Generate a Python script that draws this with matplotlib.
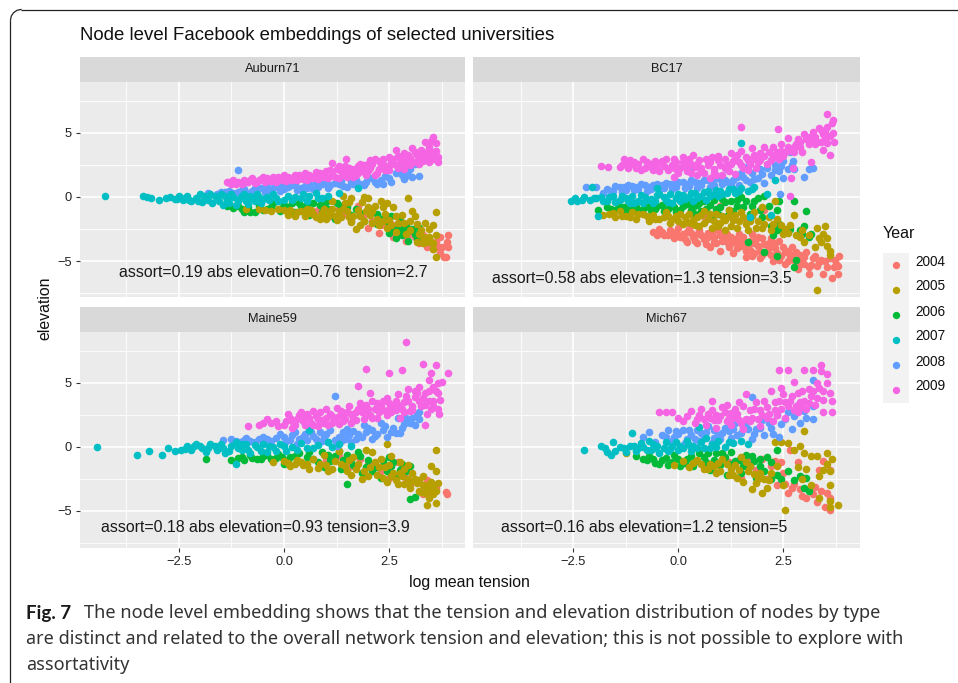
import matplotlib
matplotlib.use('Agg')
import matplotlib.pyplot as plt
from matplotlib.patches import Rectangle

plt.rcParams['font.family'] = ['Liberation Sans', 'DejaVu Sans']

years = ['2004', '2005', '2006', '2007', '2008', '2009']
year_colors = ['#F8766D', '#B79F00', '#00BA38', '#00BFC4', '#619CFF', '#F564E3']

# points, (log mean tension, elevation)
# ── Auburn71 ───────────────────────────────────────────────────────────────
auburn_2004 = [(0.5,-1.2),(0.8,-1.0),(1.1,-1.5),(1.3,-0.9),(1.6,-1.9),(1.75,-0.7),(1.9,-1.4),(2.0,-2.4),(2.1,-1.9),(2.25,-2.8),
    (2.4,-2.0),(2.5,-2.6),(2.6,-3.1),(2.7,-2.3),(2.8,-2.9),(2.9,-3.4),(3.0,-2.6),(3.1,-3.1),(3.2,-3.6),(3.3,-3.0),(3.4,-3.9),
    (3.45,-3.3),(3.55,-4.1),(3.6,-3.5),(3.7,-3.1),(3.75,-3.9),(3.8,-4.7),(3.85,-4.7),(3.9,-3.0),(3.88,-3.5),(3.9,-3.9),(3.7,-4.4),
    (2.3,-2.2),(2.55,-2.1),(2.75,-2.6),(2.95,-3.0),(3.15,-3.3),(3.35,-3.4),(3.5,-3.8),(3.65,-3.9),(3.05,-2.9),(1.45,-1.3)]
auburn_2005 = [(-0.9,-0.9),(-0.6,-0.9),(-0.3,-1.1),(0.0,-1.0),(0.1,-1.4),(0.3,-1.2),(0.5,-1.5),(0.55,-0.9),(0.7,-1.3),(0.85,-1.7),
    (0.95,-0.9),(1.05,-1.5),(1.15,-0.3),(1.25,-1.8),(1.3,-1.1),(1.4,0.1),(1.45,-0.5),(1.55,-1.6),(1.6,-0.1),(1.7,-2.5),(1.75,-1.0),
    (1.85,-0.4),(1.9,-1.9),(2.0,-0.1),(2.05,-1.4),(2.15,-0.7),(2.25,-2.2),(2.35,-0.8),(2.45,-0.5),(2.5,-1.8),(2.6,-0.8),(2.65,-2.7),
    (2.95,-0.1),(2.85,-2.0),(3.05,-1.1),(3.1,-1.5),(3.2,-2.9),(3.35,-2.0),(3.45,-3.1),(3.6,-1.2),(3.55,-2.2),(3.55,-3.6),(3.6,-3.0),
    (3.55,-4.1),(3.6,-4.65),(3.15,-3.5),(3.3,-3.6),(0.15,-1.05),(0.25,-1.45),(0.4,-1.1),(0.6,-1.25),(0.75,-1.55),(0.9,-1.25),(1.1,-1.1),
    (1.2,-1.5),(1.35,-1.6),(1.5,-1.1),(1.65,-1.5),(1.8,-2.2),(1.95,-1.1),(2.1,-2.0),(2.2,-1.7),(2.4,-1.3),(2.55,-2.2),(2.7,-2.0),(2.9,-2.9),
    (3.0,-1.9),(3.25,-2.6),(3.4,-3.5),(3.45,-2.5),(3.5,-3.5),(1.55,-0.4),(1.9,0.0),(2.3,-0.3),(-0.45,-1.0),(-0.15,-0.95),(0.65,-1.0),(1.0,-1.7),
    (1.15,-0.9),(1.4,-0.95),(1.6,-1.95),(1.8,-1.5),(2.0,-0.8),(2.1,-1.1),(2.35,-1.9),(2.45,-2.4),(2.65,-1.5),(2.8,-1.4),(3.0,-2.6),(3.15,-2.1),(3.3,-3.1)]
auburn_2006 = [(-1.35,-0.7),(-1.1,-0.7),(-0.85,-0.8),(-0.8,-1.2),(-0.6,-0.7),(-0.4,-0.9),(-0.25,-0.5),(-0.1,-1.1),(0.1,-0.8),(0.25,-1.2),
    (0.4,-0.7),(0.6,-1.4),(0.7,-0.5),(0.9,-1.2),(1.05,-0.9),(1.2,-1.7),(1.35,-0.7),(1.6,-1.4),(1.7,-0.9),(1.9,-1.9),(2.05,-1.0),
    (2.2,-2.1),(2.4,-1.4),(2.55,-1.5),(2.6,-2.5),(2.75,-1.9),(2.65,-3.2),(2.9,-2.2),(2.8,-3.0),(3.0,-2.6),(3.1,-2.9),(3.2,-2.4),(3.15,-3.2),
    (-1.2,-0.85),(-1.0,-0.95),(-0.7,-1.15),(-0.5,-1.05),(-0.3,-0.75),(0.0,-0.6),(0.2,-0.5),(0.55,-0.55),(1.0,-0.4),(1.5,-0.8),(2.3,-1.7),(2.5,-2.8),
    (2.95,-3.4),(3.05,-2.5),(-0.95,-1.2),(-0.05,-0.85),(0.35,-0.45),(0.85,-0.6),(1.25,-0.5),(1.8,-1.25),(2.2,-1.3),(2.45,-1.9),(2.7,-2.6),(2.85,-2.45)]
auburn_2007 = [(-4.25,0.05),(-3.35,0.07),(-3.25,0.0),(-3.15,-0.05),(-2.98,-0.2),(-2.8,-0.05),(-2.7,0.0),(-2.6,-0.15),(-2.5,0.05),(-2.4,-0.25),
    (-2.3,0.05),(-2.2,-0.35),(-2.1,-0.1),(-2.0,0.2),(-1.95,-0.4),(-1.85,-0.05),(-1.75,0.25),(-1.7,-0.5),(-1.6,-0.1),(-1.5,0.2),(-1.45,-0.65),
    (-1.35,-0.2),(-1.25,0.25),(-1.15,-0.6),(-1.05,-0.1),(-0.95,0.25),(-0.85,-0.55),(-0.75,-0.1),(-0.65,0.2),(-0.55,-0.45),(-0.4,0.0),
    (-0.25,0.2),(-0.15,-0.3),(0.1,0.1),(0.45,0.2),(0.75,0.3),(1.05,0.1),(1.75,0.7),(-2.55,-0.15),(-2.35,-0.05),(-2.25,-0.2),(-2.05,-0.3),(-1.9,0.05),
    (-1.8,-0.25),(-1.65,0.1),(-1.55,-0.35),(-1.4,0.05),(-1.3,-0.45),(-1.2,0.0),(-1.1,-0.35),(-1.0,0.1),(-0.9,-0.3),(-0.8,0.1),(-0.7,-0.35),
    (-0.6,0.0),(-0.5,-0.15),(-0.35,-0.25),(-0.2,-0.05),(0.0,-0.2),(0.25,0.0),(0.6,0.05),(0.9,-0.1),(0.2,-0.25),(0.4,-0.1),(0.55,-0.3),(0.8,-0.05),(1.3,0.3)]
auburn_2008 = [(-1.1,2.1),(-1.8,0.35),(-1.6,0.25),(-1.4,0.4),(-1.2,0.3),(-1.0,0.55),(-0.85,0.35),(-0.65,0.6),(-0.45,0.4),(-0.25,0.7),
    (-0.1,0.45),(0.1,0.8),(0.3,0.55),(0.5,0.85),(0.7,0.6),(0.9,1.0),(1.05,0.7),(1.2,1.1),(1.4,0.85),(1.6,1.2),(1.8,1.0),(2.0,1.45),
    (2.15,1.2),(2.3,1.3),(2.55,1.15),(2.65,1.9),(2.85,1.4),(3.0,2.2),(3.2,1.65),(3.1,2.6),(3.25,2.9),(3.3,3.3),(-1.5,0.4),(-1.3,0.5),(-1.1,0.4),
    (-0.95,0.65),(-0.75,0.5),(-0.55,0.7),(-0.35,0.55),(-0.15,0.8),(0.0,0.6),(0.2,0.9),(0.4,0.7),(0.6,1.0),(0.8,0.8),(1.0,1.1),(1.3,1.05),(1.5,0.75),
    (1.7,1.3),(1.9,0.9),(2.1,1.5),(2.4,1.65),(2.75,2.2),(2.95,1.75),(-0.7,0.7),(-0.4,0.75),(-0.05,0.9),(0.25,1.0),(0.55,0.7),(0.75,1.1),(1.1,0.9),(1.35,1.25),
    (1.65,1.0),(1.95,1.2),(2.2,1.0),(2.5,1.5),(2.35,1.0),(2.8,1.7),(3.05,1.55)]
auburn_2009 = [(-1.36,1.15),(-1.25,1.05),(-1.2,1.3),(-1.1,1.15),(-1.0,1.0),(-0.95,1.35),(-0.85,1.15),(-0.75,1.45),(-0.7,1.1),(-0.6,1.3),
    (-0.5,1.55),(-0.45,1.15),(-0.35,1.35),(-0.25,1.6),(-0.2,1.2),(-0.1,1.45),(0.0,1.7),(0.05,1.25),(0.15,1.5),(0.25,1.75),(0.3,1.3),
    (0.4,1.55),(0.5,1.85),(0.55,1.35),(0.65,1.6),(0.75,1.95),(0.8,1.4),(0.9,1.7),(1.0,2.0),(1.15,2.65),(1.05,1.45),(1.15,1.8),(1.25,2.15),
    (1.3,1.5),(1.45,2.4),(1.45,1.9),(1.5,1.6),(1.47,2.95),(1.65,2.2),(1.7,1.7),(1.8,2.6),(1.85,2.0),(1.95,1.7),(2.05,2.85),(2.05,2.3),
    (2.2,1.9),(2.15,3.0),(2.3,2.55),(2.4,2.1),(2.5,3.1),(2.55,2.6),(2.65,3.7),(2.7,2.3),(2.75,3.0),(2.85,3.4),(2.9,2.6),(3.0,3.05),
    (3.05,3.8),(3.15,3.3),(3.25,3.7),(3.35,4.3),(3.35,3.1),(3.45,3.9),(3.5,4.4),(3.55,3.0),(3.55,4.7),(3.62,4.2),(3.62,3.6),(3.65,2.7),
    (3.65,3.1),(-1.3,1.2),(-1.15,1.05),(-0.9,1.2),(-0.8,1.3),(-0.65,1.15),(-0.55,1.4),(-0.4,1.45),(-0.3,1.25),(-0.15,1.55),(-0.05,1.3),(0.1,1.6),
    (0.2,1.35),(0.35,1.7),(0.45,1.4),(0.6,1.75),(0.7,1.5),(0.85,1.85),(0.95,1.55),(1.1,2.1),(1.2,1.55),(1.35,2.0),(1.4,1.7),(1.55,2.3),(1.6,1.85),
    (1.75,2.4),(1.75,1.9),(1.9,2.5),(2.0,2.05),(2.1,2.6),(2.25,2.2),(2.25,2.8),(2.35,3.0),(2.45,2.4),(2.6,3.0),(2.65,2.5),(2.8,2.7),(2.8,3.2),
    (2.95,3.3),(2.95,2.85),(3.1,2.7),(3.1,3.5),(3.2,3.0),(3.3,2.8),(3.4,3.5),(3.5,3.2),(1.3,2.4),(1.55,2.0),(1.65,1.6),(1.85,2.3),(2.0,2.6),(2.15,1.75),
    (2.35,2.6),(2.5,2.1),(2.55,2.85),(2.7,3.2),(2.85,2.2),(3.0,2.5),(3.2,2.6),(3.3,3.4),(3.45,2.7),(3.55,3.5)]
# ── BC17 ───────────────────────────────────────────────────────────────────
bc_2004 = [(-0.6,-2.7),(-0.45,-2.5),(-0.35,-3.0),(-0.2,-2.6),(-0.1,-3.2),(0.0,-2.4),(0.1,-2.9),(0.2,-3.5),(0.25,-2.5),(0.35,-3.1),
    (0.45,-3.6),(0.5,-2.6),(0.6,-3.3),(0.7,-2.8),(0.75,-3.9),(0.85,-3.1),(0.95,-2.6),(1.0,-4.2),(1.05,-3.4),(1.15,-2.9),(1.2,-3.9),
    (1.3,-4.4),(1.35,-3.3),(1.45,-2.9),(1.5,-3.8),(1.6,-4.2),(1.6,-4.7),(1.7,-3.4),(1.75,-2.9),(1.8,-4.4),(1.9,-3.8),(1.95,-4.8),
    (2.0,-3.2),(2.1,-4.3),(2.15,-3.6),(2.25,-5.0),(2.3,-4.0),(2.4,-3.4),(2.45,-4.6),(2.55,-5.2),(2.6,-4.2),(2.7,-3.9),(2.75,-4.9),
    (2.85,-5.6),(2.9,-4.5),(3.0,-5.2),(3.05,-4.3),(3.1,-6.0),(3.2,-4.8),(3.3,-5.4),(3.4,-4.9),(3.45,-6.0),(3.55,-5.5),(3.65,-6.3),
    (3.7,-5.5),(3.72,-4.9),(3.75,-5.2),(3.8,-6.0),(3.82,-4.6),(3.8,-5.4),(3.62,-4.8),(1.0,-0.7),(0.6,-1.5),(1.6,-1.7),(2.05,-1.0),
    (-0.5,-2.95),(-0.25,-3.0),(-0.05,-2.7),(0.15,-3.25),(0.3,-2.8),(0.4,-3.4),(0.55,-2.95),(0.65,-3.65),(0.8,-2.75),(0.9,-3.6),(1.1,-3.15),
    (1.25,-3.6),(1.4,-3.6),(1.55,-3.15),(1.65,-3.8),(1.85,-3.3),(1.95,-4.2),(2.05,-3.7),(2.2,-3.2),(2.2,-4.5),(2.35,-4.4),(2.5,-3.9),(2.65,-4.6),
    (2.8,-4.3),(2.95,-4.8),(3.15,-5.3),(3.25,-4.6),(1.4,-4.0),(1.75,-4.6),(2.6,-5.0),(2.9,-5.2),(-0.4,-2.75),(-0.15,-2.85),(0.05,-3.1),(0.2,-2.7),(0.4,-2.95),
    (0.7,-3.15),(0.85,-3.5),(1.0,-3.0),(1.15,-3.55),(1.25,-3.15),(1.45,-3.25),(1.55,-3.55),(1.7,-4.15),(1.8,-3.6),(1.9,-3.1),(2.0,-4.55),(2.15,-4.0),
    (2.3,-3.6),(2.4,-4.9),(2.55,-4.3),(2.7,-4.5),(2.85,-4.9),(3.0,-4.65),(3.1,-5.5),(3.35,-5.1),(3.5,-5.0)]
bc_2005 = [(-1.8,-1.4),(-1.65,-1.3),(-1.5,-1.55),(-1.4,-1.1),(-1.25,-1.5),(-1.1,-1.2),(-1.0,-1.7),(-0.85,-1.3),(-0.7,-1.9),(-0.6,-1.4),
    (-0.45,-1.7),(-0.3,-1.2),(-0.2,-2.0),(-0.05,-1.5),(0.1,-2.1),(0.25,-1.3),(0.35,-1.8),(0.5,-2.3),(0.6,-1.1),(0.7,-1.7),(0.8,-2.4),
    (0.9,-1.3),(1.0,-2.0),(1.1,-2.6),(1.2,-1.0),(1.3,-1.8),(1.4,-2.4),(1.5,-1.2),(1.6,-2.1),(1.75,-1.5),(1.65,-2.6),(1.85,-2.4),(2.0,-0.8),
    (2.05,-2.1),(2.2,-2.6),(2.3,-0.3),(2.35,-1.7),(2.5,-2.9),(2.65,-2.2),(2.75,-1.4),(2.8,-3.0),(2.95,-2.6),(3.0,-3.5),(3.1,-3.0),
    (3.3,-2.4),(3.25,-3.9),(3.35,-3.2),(3.45,-2.9),(3.5,-2.3),(3.55,-3.2),(3.55,-3.8),(3.6,-4.2),(3.6,-4.5),(3.3,-7.3),(3.4,-3.5),
    (-1.55,-1.25),(-1.35,-1.45),(-1.15,-1.55),(-0.95,-1.3),(-0.75,-1.5),(-0.55,-1.75),(-0.35,-1.55),(-0.15,-1.7),(0.0,-1.85),(0.15,-1.6),(0.3,-2.0),
    (0.45,-1.55),(0.6,-2.0),(0.75,-1.35),(0.95,-2.3),(1.05,-1.5),(1.25,-2.3),(1.35,-1.4),(1.55,-1.6),(1.9,-1.9),(2.15,-1.6),(2.45,-2.2),(2.6,-2.8),
    (-0.25,-1.45),(0.05,-1.35),(0.2,-1.95),(0.4,-2.15),(0.55,-1.4),(0.85,-1.85),(1.1,-1.8),(1.2,-1.45),(1.45,-1.85),(1.7,-1.85),(1.8,-1.2),(2.0,-2.45),(2.25,-2.1),(2.55,-2.5),(2.9,-3.1)]
bc_2006 = [(-1.9,-1.0),(-1.7,-0.8),(-1.55,-1.1),(-1.4,-0.75),(-1.25,-1.1),(-1.1,-0.7),(-0.95,-1.0),(-0.8,-0.6),(-0.65,-1.0),(-0.5,-0.7),
    (-0.35,-1.1),(-0.2,-0.6),(-0.05,-1.2),(0.1,-0.7),(0.25,-0.2),(0.4,-1.3),(0.5,-0.5),(0.65,-0.9),(0.8,-1.6),(0.85,-0.2),(1.0,-0.8),
    (1.15,-1.5),(1.25,-0.3),(1.4,-0.7),(1.6,-0.3),(1.75,-0.7),(1.9,-0.1),(2.0,-1.6),(2.05,0.1),(2.15,-0.7),(2.35,-1.0),(2.4,-2.1),
    (2.4,-0.3),(2.35,-2.6),(2.25,-3.0),(2.75,-0.3),(2.9,-2.6),(3.0,-2.3),(3.05,-1.1),(2.95,-2.9),(3.15,-2.9),(3.1,-3.1),(1.65,-3.5),
    (2.05,-4.3),(2.35,-4.6),(2.8,-4.9),(2.75,-5.5),(1.95,-1.0),(2.65,-2.5),(-1.6,-0.95),(-1.45,-0.9),(-1.3,-0.8),(-1.15,-0.95),(-1.0,-0.75),(-0.85,-0.95),
    (-0.7,-0.75),(-0.55,-0.95),(-0.4,-0.65),(-0.25,-0.9),(-0.1,-0.8),(0.05,-1.0),(0.2,-0.55),(0.35,-0.8),(0.55,-1.1),(0.75,-0.6),(0.95,-1.3),(1.1,-0.4),
    (1.3,-1.1),(1.5,0.0),(1.7,-1.3),(2.2,-2.3),(0.3,-1.05),(0.45,-0.65),(0.6,-0.35),(0.9,-0.9),(1.05,-0.15),(1.2,-1.0),(1.4,-0.2),(1.55,-0.75),(1.8,-0.3),(2.5,-2.6)]
bc_2007 = [(-2.55,-0.3),(-2.45,-0.1),(-2.4,-0.3),(-2.25,0.0),(-2.1,-0.25),(-1.95,-0.05),(-1.8,-0.35),(-1.65,0.0),(-1.5,-0.4),(-1.35,0.1),
    (-1.2,-0.3),(-1.05,-0.5),(-0.9,0.15),(-0.75,-0.2),(-0.6,-0.5),(-0.45,0.2),(-0.3,-0.2),(-0.15,-0.5),(0.0,0.25),(0.15,-0.15),(0.3,0.35),
    (0.45,-0.1),(0.6,0.4),(0.75,0.05),(0.9,0.55),(1.05,0.2),(1.2,0.6),(1.35,0.3),(1.5,0.7),(1.65,0.5),(1.8,0.75),(1.5,4.2),(1.7,-1.55),
    (2.2,-1.4),(2.3,1.3),(2.1,0.2),(-1.9,-1.5),(-2.05,0.75),(-0.5,0.7),(-2.3,-0.2),(-2.0,-0.1),(-1.85,0.0),(-1.7,-0.3),(-1.55,0.05),(-1.4,-0.25),(-1.25,-0.05),
    (-1.1,0.05),(-0.95,-0.35),(-0.8,0.0),(-0.65,-0.15),(-0.5,0.15),(-0.35,0.0),(-0.2,0.2),(-0.05,-0.1),(0.1,0.15),(0.25,0.0),(0.4,0.3),(0.55,0.1),(0.7,0.45),
    (0.85,0.2),(1.0,0.5),(1.15,0.3),(1.3,0.65),(1.45,0.45),(1.75,0.6),(-1.15,-0.45),(-0.85,-0.45),(-0.55,-0.3),(-0.25,-0.4),(0.05,-0.35),(0.35,-0.3),(0.65,-0.2),(0.95,0.05)]
bc_2008 = [(-2.2,0.75),(-1.95,0.8),(-1.8,0.3),(-1.6,0.5),(-1.5,0.85),(-1.35,0.4),(-1.2,0.95),(-1.05,0.55),(-0.9,1.05),(-0.75,0.5),
    (-0.6,0.95),(-0.45,0.55),(-0.3,1.1),(-0.15,0.6),(0.0,1.2),(0.15,0.7),(0.3,1.3),(0.28,2.0),(0.45,0.7),(0.6,1.3),(0.75,0.8),(0.9,1.45),
    (1.05,1.0),(1.15,2.15),(1.3,1.3),(1.5,1.9),(1.45,0.9),(1.65,2.4),(1.8,1.4),(1.95,2.2),(2.05,1.1),(2.2,2.9),(2.2,1.7),(2.35,3.2),
    (2.4,2.0),(2.5,1.5),(2.65,3.5),(2.7,2.5),(2.72,2.8),(2.75,2.2),(3.0,1.6),(3.2,2.3),(3.1,2.2),(2.42,0.2),(-1.7,0.6),(-1.55,0.45),(-1.4,0.8),(-1.25,0.55),
    (-1.1,0.85),(-0.95,0.6),(-0.8,0.95),(-0.65,0.65),(-0.5,1.05),(-0.35,0.7),(-0.2,1.05),(-0.05,0.8),(0.1,1.15),(0.25,0.85),(0.4,1.2),(0.55,0.9),(0.7,1.3),
    (0.85,0.95),(1.0,1.4),(1.15,1.15),(1.4,1.6),(1.6,1.3),(1.75,1.9),(1.9,1.5),(2.1,2.3),(2.3,2.5),(2.5,2.8),(2.6,2.2),(-1.3,0.75),(-1.0,0.8),(-0.7,0.8),
    (-0.4,0.9),(-0.1,1.0),(0.2,1.05),(0.5,1.1),(0.8,1.15),(1.1,1.3),(1.25,0.9),(1.55,1.6),(1.7,1.2),(2.0,1.8),(2.3,2.1),(2.45,2.4)]
bc_2009 = [(-1.85,2.4),(-1.67,2.35),(-1.35,2.5),(-1.3,2.95),(-1.2,2.3),(-1.05,2.7),(-0.9,2.1),(-0.85,3.0),(-0.7,2.4),(-0.55,2.8),(-0.45,2.0),
    (-0.3,3.0),(-0.2,2.3),(-0.05,2.7),(-0.1,1.6),(0.1,3.1),(0.2,2.0),(0.3,2.6),(0.35,3.3),(0.45,1.7),(0.55,2.3),(0.65,3.0),(0.75,1.5),
    (0.85,2.2),(0.95,3.2),(1.05,1.7),(1.15,2.5),(1.25,3.4),(1.35,1.8),(1.45,2.7),(1.5,5.5),(1.5,3.6),(1.65,2.1),(1.75,3.0),(1.75,3.8),
    (1.85,2.3),(1.95,3.4),(2.05,3.9),(2.1,2.6),(2.25,3.3),(2.25,3.9),(2.37,5.3),(2.4,3.0),(2.45,4.1),(2.55,3.5),(2.6,4.6),(2.65,0.1),
    (2.68,1.5),(2.75,3.9),(2.72,2.3),(2.85,4.5),(2.95,3.5),(3.0,4.9),(3.1,4.1),(3.15,2.75),(3.2,5.1),(3.3,4.3),(3.35,5.4),(3.45,4.9),
    (3.45,3.7),(3.55,4.2),(3.55,5.5),(3.55,6.5),(3.65,5.8),(3.68,5.0),(3.68,6.0),(3.7,4.3),(3.6,3.3),(-1.4,2.35),(-1.25,2.6),(-1.15,2.9),(-1.0,2.25),(-0.95,2.6),
    (-0.8,2.3),(-0.75,2.75),(-0.6,2.1),(-0.5,2.5),(-0.4,2.8),(-0.25,2.1),(-0.15,2.5),(-0.1,2.95),(0.0,1.9),(0.05,2.3),(0.15,2.6),(0.25,2.95),(0.3,1.9),(0.4,2.35),
    (0.5,2.85),(0.6,1.9),(0.7,2.5),(0.8,3.1),(0.9,1.7),(1.0,2.5),(1.1,3.0),(1.2,2.05),(1.3,2.8),(1.4,3.3),(1.55,2.3),(1.6,3.1),(1.7,2.6),(1.85,3.0),(1.9,2.7),
    (2.05,3.2),(2.2,2.9),(2.35,3.5),(2.5,3.2),(2.65,3.6),(2.8,4.1),(2.9,3.9),(3.05,4.5),(3.15,4.5),(3.25,4.7),(3.4,4.3),(3.5,5.1),(-1.1,2.55),(-0.65,2.6),(-0.35,2.4),
    (-0.05,2.15),(0.1,2.75),(0.2,2.3),(0.45,2.6),(0.55,2.05),(0.75,2.75),(0.85,1.9),(0.95,2.85),(1.1,2.3),(1.25,2.55),(1.35,3.1),(1.5,2.5),(1.65,2.85),(1.8,3.3),
    (1.95,2.9),(2.15,3.5),(2.3,3.1),(2.45,3.6),(2.6,3.9),(2.75,3.5),(2.9,4.3),(3.1,4.7),(3.25,4.1),(3.4,5.2),(3.5,4.6),(3.62,4.8)]
# ── Maine59 ────────────────────────────────────────────────────────────────
maine_2004 = [(1.0,-1.0),(1.3,-0.7),(1.6,-1.5),(1.8,-0.9),(2.0,-1.3),(2.3,-1.9),(2.5,-2.4),(2.7,-1.2),(2.9,-2.4),(3.0,-3.0),(3.3,-3.7),
    (3.4,-2.6),(3.5,-3.6),(3.85,-3.5),(3.88,-3.7),(3.6,-3.2)]
maine_2005 = [(-0.25,-1.2),(0.0,-1.1),(0.15,-1.5),(0.3,-1.0),(0.45,-1.4),(0.6,-1.7),(0.7,-0.9),(0.85,-1.3),(0.95,-0.6),(1.05,-1.9),
    (1.2,-1.1),(1.3,-0.3),(1.42,0.6),(1.45,-1.5),(1.6,-2.2),(1.65,-0.8),(1.75,-1.3),(1.85,-2.5),(1.95,-0.2),(2.05,-1.6),(2.1,-0.4),
    (2.2,-2.2),(2.3,-0.9),(2.4,-1.6),(2.45,-2.7),(2.45,0.2),(2.55,-0.7),(2.6,-2.0),(2.7,-2.9),(2.75,-1.2),(2.85,-1.7),(2.95,-2.5),
    (3.0,-3.2),(3.05,-2.0),(3.15,-2.8),(3.2,-3.4),(3.3,-3.0),(3.3,-2.3),(3.4,-3.3),(3.4,-4.55),(3.5,-1.5),(3.55,-3.1),(3.6,-1.9),
    (3.62,-0.2),(3.65,-2.8),(3.62,-3.4),(3.6,-4.4),(2.95,-1.4),(0.1,-1.25),(0.25,-1.35),(0.4,-1.15),(0.55,-1.35),(0.8,-1.65),(1.0,-1.4),(1.15,-1.7),(1.35,-1.3),
    (1.55,-1.0),(1.9,-1.9),(2.15,-1.2),(2.35,-2.4),(2.5,-1.4),(2.65,-2.6),(2.8,-2.3),(3.1,-2.5),(3.25,-3.5),(3.45,-2.9),(3.5,-3.3),(1.5,-1.9),(1.7,-1.75),(2.0,-2.3),
    (2.25,-1.6),(2.55,-2.3),(2.75,-2.0),(2.85,-2.9),(3.0,-2.7),(3.2,-2.6),(3.35,-3.6),(3.5,-2.7),(3.55,-3.7),(3.45,-4.0)]
maine_2006 = [(-1.85,-0.9),(-1.25,-1.05),(-1.1,-0.85),(-0.95,-1.0),(-0.8,-0.6),(-0.65,-0.95),(-0.5,-0.7),(-0.3,-0.9),(-0.15,-0.55),(0.0,-1.3),
    (0.15,-0.8),(0.35,-0.5),(0.45,-1.3),(0.7,-0.9),(0.9,-0.4),(0.95,-1.6),(1.1,-1.1),(1.3,-0.3),(1.35,-1.7),(1.5,-0.6),(1.5,-2.9),
    (1.65,-1.4),(1.75,-0.4),(1.85,-2.0),(2.0,-1.0),(2.2,-1.6),(2.3,-2.4),(2.5,-0.8),(2.55,-1.5),(2.65,-2.3),(2.8,-1.3),(3.0,-1.5),
    (3.0,-4.1),(3.1,-3.9),(-1.0,-0.75),(-0.75,-0.85),(-0.55,-0.95),(-0.4,-0.65),(-0.2,-0.85),(-0.05,-0.75),(0.1,-1.05),(0.25,-0.7),(0.55,-0.75),(0.8,-1.2),
    (1.2,-0.7),(1.6,-0.9),(1.95,-1.6),(2.35,-1.1),(2.6,-1.2),(2.9,-1.9),(0.6,-0.4),(1.05,-0.6),(1.4,-1.05),(1.8,-0.7),(2.1,-1.9),(2.45,-1.9),(2.75,-1.8)]
maine_2007 = [(-4.45,0.0),(-3.5,-0.6),(-3.2,-0.3),(-2.9,-0.6),(-2.75,-0.1),(-2.6,-0.3),(-2.45,-0.2),(-2.3,0.1),(-2.2,-0.25),(-2.1,0.25),
    (-1.95,-0.1),(-1.85,-0.4),(-1.75,0.2),(-1.6,-0.2),(-1.5,0.25),(-1.4,-0.5),(-1.25,0.1),(-1.15,0.35),(-1.15,-1.35),(-1.0,-0.2),
    (-0.9,0.25),(-0.8,-0.5),(-0.65,0.0),(-0.5,0.2),(-0.4,-0.4),(-0.25,0.0),(-0.1,0.25),(0.05,-0.3),(0.2,0.0),(0.4,0.3),(0.55,-0.1),
    (0.8,0.15),(1.05,0.4),(1.3,0.25),(1.6,0.1),(0.6,1.35),(-2.35,-0.15),(-2.15,0.05),(-2.0,0.1),(-1.8,-0.05),(-1.65,0.1),(-1.45,-0.1),(-1.3,-0.3),(-1.1,-0.1),
    (-1.0,0.2),(-0.85,-0.25),(-0.7,0.15),(-0.55,-0.3),(-0.35,0.1),(-0.2,-0.3),(0.0,0.1),(0.3,-0.2),(0.7,-0.05),(1.15,0.0)]
maine_2008 = [(-1.45,0.55),(-1.25,0.6),(-1.05,0.35),(-0.9,0.7),(-0.7,0.4),(-0.5,0.8),(-0.3,0.45),(-0.1,1.0),(0.05,0.5),(0.2,0.95),(0.3,0.2),
    (0.45,0.8),(0.65,1.15),(0.8,0.3),(0.95,0.75),(1.1,1.3),(1.25,0.1),(1.3,0.8),(1.2,3.95),(1.5,1.4),(1.6,0.4),(1.75,1.0),(1.9,1.7),
    (2.1,0.6),(2.1,1.3),(2.3,1.9),(2.45,0.8),(2.6,1.5),(2.7,2.3),(2.75,1.1),(2.85,1.8),(3.05,2.3),(3.1,1.7),(3.2,2.7),(3.2,2.2),(-1.15,0.5),(-0.95,0.55),(-0.8,0.45),
    (-0.6,0.65),(-0.4,0.65),(-0.2,0.7),(0.0,0.75),(0.15,0.55),(0.35,0.6),(0.55,0.55),(0.7,0.85),(0.9,0.45),(1.0,1.05),(1.2,0.55),(1.4,1.15),(1.45,0.6),(1.65,1.25),
    (1.85,0.8),(2.0,1.5),(2.2,1.0),(2.4,1.6),(2.55,1.2),(2.8,1.5),(2.95,2.1),(3.15,2.5),(0.25,1.15),(0.5,1.0),(0.75,0.6),(0.85,1.2),(1.05,0.35),(1.35,0.45),
    (1.55,0.9),(1.7,0.65),(1.95,1.15),(2.15,0.85),(2.35,1.3),(2.65,1.1),(2.9,2.3),(3.0,1.9)]
maine_2009 = [(-0.85,1.6),(-0.6,1.7),(-0.4,2.2),(-0.3,1.9),(-0.15,1.6),(0.05,2.0),(0.1,2.6),(0.2,1.5),(0.3,2.2),(0.4,2.7),(0.5,1.7),
    (0.6,2.3),(0.7,2.8),(0.8,1.6),(0.9,2.1),(1.0,3.0),(1.05,1.7),(1.15,2.4),(1.25,3.05),(1.3,1.8),(1.4,2.5),(1.55,3.2),(1.6,1.9),(1.7,2.7),
    (1.75,4.8),(1.8,3.4),(1.95,6.1),(1.9,2.2),(2.0,3.0),(2.05,4.2),(2.1,3.6),(2.2,2.3),(2.3,3.2),(2.45,3.8),(2.5,5.8),(2.45,2.5),(2.6,3.2),
    (2.7,4.1),(2.75,2.3),(2.8,6.0),(2.85,3.5),(2.9,8.2),(2.95,4.5),(3.0,2.8),(3.1,3.9),(3.2,4.7),(3.25,3.2),(3.3,6.5),(3.35,4.2),(3.4,2.6),
    (3.45,5.2),(3.5,5.8),(3.55,3.6),(3.55,4.7),(3.6,6.4),(3.65,5.0),(3.65,4.2),(3.65,3.0),(3.68,2.6),(3.7,3.7),(3.9,5.8),(3.75,5.1),(3.35,1.7),(-0.5,1.9),(-0.2,2.05),
    (0.0,1.7),(0.15,2.3),(0.25,1.75),(0.35,2.5),(0.45,2.0),(0.55,2.6),(0.65,1.9),(0.75,2.4),(0.85,2.7),(0.95,1.9),(1.1,2.6),(1.2,2.1),(1.35,2.8),(1.45,2.2),(1.5,2.7),
    (1.65,2.3),(1.75,3.0),(1.85,2.7),(1.95,3.3),(2.05,2.5),(2.15,3.0),(2.25,2.7),(2.35,3.6),(2.5,3.0),(2.55,2.7),(2.65,3.6),(2.8,3.0),(2.95,3.6),(3.05,3.2),(3.15,4.2),
    (3.3,3.8),(3.45,4.4),(3.5,3.0),(0.2,2.0),(0.5,2.25),(0.7,1.75),(0.8,2.15),(1.0,2.3),(1.15,1.85),(1.3,2.45),(1.4,2.0),(1.6,2.55),(1.7,2.1),(1.85,2.95),(1.95,2.5),
    (2.1,2.25),(2.2,3.4),(2.35,2.9),(2.5,3.45),(2.65,2.9),(2.7,3.3),(2.85,2.7),(2.9,4.0),(3.05,2.9),(3.1,4.4),(3.2,3.6),(3.35,3.3),(3.45,3.6),(3.55,3.2),(3.6,4.4)]
# ── Mich67 ─────────────────────────────────────────────────────────────────
mich_2004 = [(1.2,-1.2),(1.5,-2.4),(1.7,-1.0),(1.85,-1.8),(2.0,-0.9),(2.1,-2.5),(2.3,-1.1),(2.35,-3.0),(2.5,-2.0),(2.6,-3.6),(2.65,-0.2),
    (2.75,-2.9),(2.9,-3.3),(2.85,-1.2),(3.0,-2.4),(3.05,-4.0),(3.2,-3.7),(3.3,-4.3),(3.4,-3.4),(3.35,-1.8),(3.45,-1.1),(3.5,-4.7),(3.6,-4.9),
    (3.6,-4.0),(3.55,-3.6),(3.6,-1.8),(2.2,-1.5),(2.45,-1.2),(2.55,-2.9),(2.7,-3.2),(2.95,-3.8),(3.1,-3.3),(3.25,-3.1)]
mich_2005 = [(-1.25,-0.5),(-0.1,-1.4),(0.1,-1.1),(0.25,-1.6),(0.45,-1.0),(0.6,-1.7),(0.75,-1.3),(0.9,-2.0),(1.05,-0.9),(1.2,-2.2),(1.35,-1.4),
    (1.5,-0.8),(1.55,-2.7),(1.65,-1.9),(1.75,-3.3),(1.9,-2.5),(2.0,-3.6),(2.1,-3.2),(2.3,0.35),(2.45,0.4),(2.6,0.3),(2.35,-1.5),(2.5,-3.0),
    (2.75,-0.2),(2.85,-1.6),(2.9,0.1),(3.0,1.25),(3.0,-0.5),(2.95,-2.5),(3.15,-0.7),(3.3,-0.7),(3.35,-2.3),(3.15,-3.0),(3.35,-4.0),(3.45,-1.8),
    (3.55,-0.5),(3.55,-1.3),(3.65,-0.9),(3.62,-1.9),(3.6,-3.0),(3.6,-4.2),(3.8,-4.5),(3.6,-4.7),(2.55,-4.9),(1.95,-2.0),(0.35,-1.25),(0.55,-1.3),(0.7,-1.7),(0.85,-1.5),
    (1.0,-1.9),(1.15,-1.3),(1.3,-2.2),(1.45,-1.8),(1.6,-1.2),(1.8,-2.1),(2.05,-2.5),(2.2,-2.0),(3.05,-1.7),(0.95,-1.25),(1.25,-1.7),(1.4,-2.4),(1.7,-1.5),(1.85,-2.8),(2.15,-2.6)]
mich_2006 = [(-1.0,-0.7),(-0.85,-0.9),(-0.7,-0.7),(-0.55,-1.25),(-0.4,-1.0),(-0.25,-1.4),(-0.1,-0.6),(0.05,-1.5),(0.2,-0.9),(0.35,-1.5),
    (0.5,-0.5),(0.65,-1.2),(0.75,-1.8),(0.9,-0.5),(1.0,-1.4),(1.15,-2.2),(1.25,-0.4),(1.35,-1.1),(1.5,-2.0),(1.6,-0.6),(1.7,-1.5),(1.85,-2.4),
    (1.95,-0.9),(2.05,-1.9),(2.2,-1.2),(2.35,-0.2),(2.35,-2.2),(2.6,-1.9),(2.75,-2.6),(2.9,-2.3),(3.0,-3.2),(3.05,-2.4),(3.1,-3.4),(-0.75,-1.0),(-0.6,-0.9),(-0.45,-1.3),
    (-0.3,-0.85),(-0.15,-1.2),(0.0,-0.9),(0.15,-1.25),(0.3,-0.7),(0.45,-1.1),(0.6,-0.8),(0.85,-1.0),(1.1,-0.8),(1.45,-1.0),(1.8,-1.1),(2.2,-2.5),(0.7,-0.5),(1.05,-0.5),
    (1.2,-1.3),(1.55,-1.5),(1.75,-0.7),(1.95,-1.5),(2.1,-0.8),(2.45,-2.5)]
mich_2007 = [(-2.25,-0.2),(-1.85,0.1),(-1.75,-0.1),(-1.7,-0.4),(-1.55,0.4),(-1.6,-0.6),(-1.5,-0.3),(-1.4,0.0),(-1.25,-0.4),(-1.1,1.1),(-1.15,0.05),
    (-1.0,-0.3),(-0.9,0.3),(-0.75,-0.2),(-0.6,0.2),(-0.45,-0.5),(-0.3,0.35),(-0.2,-0.15),(-0.05,0.35),(0.1,-0.1),(0.2,0.5),(0.35,0.1),(0.5,1.55),
    (0.6,-0.1),(0.65,0.7),(0.8,0.2),(0.95,0.45),(1.1,0.0),(1.3,0.3),(1.5,0.5),(1.65,0.2),(-0.7,0.5),(-1.3,-0.1),(-1.05,0.05),(-0.85,0.0),(-0.65,-0.25),(-0.5,0.05),
    (-0.35,-0.1),(-0.15,0.1),(0.0,-0.25),(0.25,0.15),(0.45,-0.1),(0.55,0.35),(0.75,-0.05),(-0.95,-0.1),(-0.55,-0.1),(-0.25,-0.35),(0.05,0.1),(0.3,-0.3),(0.9,0.0),(1.2,0.4)]
mich_2008 = [(-0.85,0.75),(-0.7,1.15),(-0.55,0.4),(-0.4,0.9),(-0.25,1.3),(-0.15,0.5),(0.0,1.0),(0.15,0.3),(0.25,1.3),(0.4,0.6),(0.55,1.1),
    (0.7,1.6),(0.8,0.3),(0.95,0.9),(1.1,1.5),(1.25,0.7),(1.35,1.9),(1.5,1.1),(1.6,1.9),(1.75,0.6),(1.85,1.4),(1.75,3.9),(2.0,2.1),(2.05,0.9),
    (2.2,1.5),(2.35,2.5),(2.4,0.8),(2.45,1.8),(2.6,2.7),(2.7,1.4),(2.85,3.3),(2.9,1.9),(3.0,2.8),(3.2,2.2),(3.2,3.2),(3.2,5.2),(-0.3,0.8),(-0.1,0.75),(0.1,1.3),(0.3,0.9),
    (0.5,0.45),(0.65,1.2),(0.85,0.7),(1.05,1.1),(1.2,1.25),(1.4,0.9),(1.55,1.5),(1.8,1.0),(2.15,1.9),(2.55,2.2),(-0.05,1.25),(0.2,0.65),(0.45,1.35),(0.6,0.8),(0.85,1.3),
    (1.0,0.6),(1.3,1.4),(1.65,1.4),(1.95,1.5),(2.25,1.0),(2.75,2.4),(3.05,2.3)]
mich_2009 = [(-0.45,2.7),(-0.3,2.7),(-0.15,2.7),(0.0,2.3),(0.1,2.0),(0.2,2.4),(0.3,2.8),(0.4,1.9),(0.5,2.5),(0.55,3.0),(0.65,1.7),(0.75,2.3),
    (0.8,2.9),(0.9,1.5),(0.95,2.1),(0.8,3.6),(1.1,2.7),(1.15,3.3),(1.25,1.7),(1.3,2.3),(1.35,3.0),(1.45,3.5),(1.55,1.4),(1.6,2.2),(1.7,2.9),
    (1.6,4.1),(1.85,3.5),(1.95,1.6),(2.0,2.5),(2.1,3.1),(2.2,4.4),(2.25,2.0),(2.3,2.9),(2.4,3.6),(2.4,6.0),(2.6,6.05),(2.45,4.6),(2.55,2.3),
    (2.6,3.2),(2.7,4.0),(2.75,5.1),(2.85,2.7),(2.9,3.5),(2.95,4.4),(3.0,6.0),(3.05,3.0),(3.15,4.0),(3.2,6.0),(3.25,3.3),(3.35,4.6),(3.4,6.4),
    (3.45,2.7),(3.45,3.7),(3.55,5.7),(3.55,5.0),(3.6,4.2),(3.65,3.6),(3.65,2.7),(3.4,5.9),(0.45,2.2),(0.7,2.6),(0.85,2.1),(1.0,2.4),(1.05,3.1),(1.2,2.3),(1.4,2.6),(1.5,1.9),
    (1.55,3.2),(1.75,2.3),(1.8,3.0),(1.9,2.2),(2.05,3.6),(2.15,2.6),(2.3,3.5),(2.45,3.0),(2.5,4.1),(2.65,3.6),(2.8,3.2),(2.85,4.2),(3.0,3.6),(3.1,4.5),(3.3,3.8),(3.3,5.0),
    (0.6,2.15),(0.9,2.5),(1.15,2.0),(1.25,2.65),(1.45,2.1),(1.7,2.0),(1.95,2.85),(2.1,2.3),(2.35,2.5),(2.55,3.5),(2.75,2.9),(2.95,3.1),(3.1,3.4),(3.2,4.4),(3.45,4.4)]

panel_names = ['Auburn71', 'BC17', 'Maine59', 'Mich67']
panel_notes = ['assort=0.19 abs elevation=0.76 tension=2.7', 'assort=0.58 abs elevation=1.3 tension=3.5',
               'assort=0.18 abs elevation=0.93 tension=3.9', 'assort=0.16 abs elevation=1.2 tension=5']
note_x = [-0.26, -0.86, -0.69, -0.82]
note_y = [-5.9, -6.4, -6.3, -6.3]
panel_series = [
    [auburn_2004, auburn_2005, auburn_2006, auburn_2007, auburn_2008, auburn_2009],
    [bc_2004, bc_2005, bc_2006, bc_2007, bc_2008, bc_2009],
    [maine_2004, maine_2005, maine_2006, maine_2007, maine_2008, maine_2009],
    [mich_2004, mich_2005, mich_2006, mich_2007, mich_2008, mich_2009],
]

W, H = 958, 683
fig = plt.figure(figsize=(W / 100, H / 100), dpi=100, facecolor='white')


def px_box(left, top, right, bottom):
    return [left / W, 1 - bottom / H, (right - left) / W, (bottom - top) / H]


columns = [(80, 465, (-4.846, 4.299)), (473, 860, (-4.888, 4.326))]
rows = [(57, 82, 297, (-7.81, 8.98)), (307, 332, 548, (-7.89, 8.98))]
# drawn so that the blue sits under the teal and pink, olive over green
draw_order = [0, 2, 1, 4, 3, 5]

for i, name in enumerate(panel_names):
    left, right, xlim = columns[i % 2]
    strip_top, top, bottom, ylim = rows[i // 2]
    strip = fig.add_axes(px_box(left, strip_top, right, top), facecolor='#D9D9D9')
    strip.set_xticks([])
    strip.set_yticks([])
    for s in strip.spines.values():
        s.set_visible(False)
    strip.text(0.5, 0.5, name, ha='center', va='center', fontsize=9.2, color='#1A1A1A', transform=strip.transAxes)

    ax = fig.add_axes(px_box(left, top, right, bottom), facecolor='#EBEBEB')
    ax.set_xlim(xlim)
    ax.set_ylim(ylim)
    ax.set_xticks([-2.5, 0, 2.5])
    ax.set_xticks([-3.75, -1.25, 1.25, 3.75], minor=True)
    ax.set_yticks([-5, 0, 5])
    ax.set_yticks([-7.5, -2.5, 2.5, 7.5], minor=True)
    ax.grid(True, which='major', color='white', lw=1.2, zorder=1)
    ax.grid(True, which='minor', color='white', lw=0.6, zorder=1)
    ax.set_axisbelow(True)
    for s in ax.spines.values():
        s.set_visible(False)
    ax.tick_params(which='minor', length=0)
    ax.tick_params(which='major', length=3, width=0.8, color='#333333', labelcolor='#222222', labelsize=9.3, pad=3)
    ax.set_xticklabels(['\u22122.5', '0.0', '2.5'])
    ax.set_yticklabels(['\u22125', '0', '5'])
    if i % 2 == 1:
        ax.tick_params(axis='y', which='major', left=False, labelleft=False)
    if i // 2 == 0:
        ax.tick_params(axis='x', which='major', bottom=False, labelbottom=False)

    for k in draw_order:
        xs, ys = zip(*panel_series[i][k])
        ax.scatter(xs, ys, s=30, color=year_colors[k], linewidths=0, zorder=3)
    ax.text(note_x[i], note_y[i], panel_notes[i], ha='center', va='center', fontsize=11.4, color='#1A1A1A', zorder=5)

fig.text(80 / W, 1 - 36 / H, 'Node level Facebook embeddings of selected universities', fontsize=13.45, color='#111111', va='center')
fig.text(469 / W, 1 - 582 / H, 'log mean tension', fontsize=11.4, color='#111111', ha='center', va='center')
fig.text(45 / W, 1 - 308 / H, 'elevation', fontsize=11.4, color='#111111', ha='center', va='center', rotation=90)

# legend
leg = fig.add_axes([0, 0, 1, 1], facecolor='none')
leg.set_xlim(0, W)
leg.set_ylim(H, 0)
leg.axis('off')
leg.add_patch(Rectangle((883, 253), 26, 150, facecolor='#F2F2F2', edgecolor='none'))
leg.text(883, 233, 'Year', fontsize=11.5, color='#111111', va='center')
for j, year in enumerate(years):
    leg.scatter([896], [265 + 25 * j], s=28, color=year_colors[j], linewidths=0)
    leg.text(915, 261.5 + 25 * j, year, fontsize=9.8, color='#111111', va='center')

# page frame
leg.plot([10.5, 10.5], [683, 20], color='#222222', lw=0.9, solid_capstyle='butt')
leg.plot([21, 958], [9.5, 9.5], color='#222222', lw=0.9, solid_capstyle='butt')
leg.plot([10.5, 11.3, 13.6, 17, 21], [20, 16, 12.7, 10.3, 9.5], color='#222222', lw=0.9)

# caption
cap = ['The node level embedding shows that the tension and elevation distribution of nodes by type',
       'are distinct and related to the overall network tension and elevation; this is not possible to explore with',
       'assortativity']
leg.text(26, 613, 'Fig. 7', fontsize=13.5, fontweight='bold', family=['Lato'], color='#1a1a1a', va='center')
leg.text(84, 613, cap[0], fontsize=13.1, family=['Noto Sans'], color='#333333', va='center')
leg.text(26, 639, cap[1], fontsize=13.0, family=['Noto Sans'], color='#333333', va='center')
leg.text(26, 665, cap[2], fontsize=13.0, family=['Noto Sans'], color='#333333', va='center')

fig.savefig('out.png', dpi=100)
